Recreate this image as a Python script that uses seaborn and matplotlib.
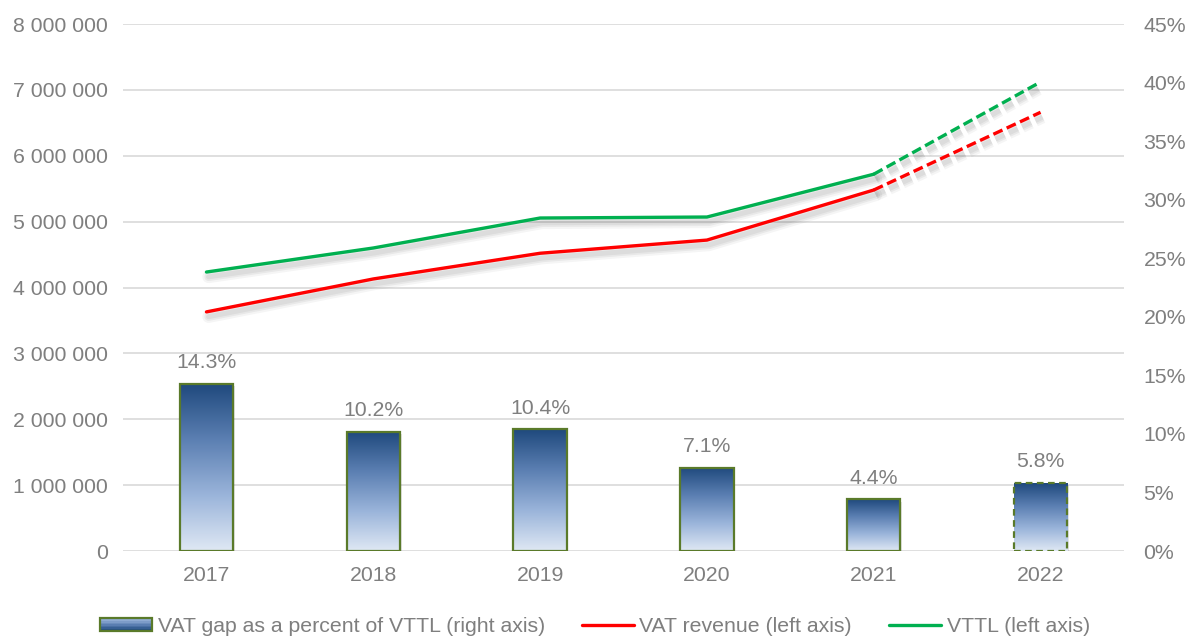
import numpy as np
import pandas as pd
import matplotlib
matplotlib.use("Agg")
import matplotlib.pyplot as plt
import matplotlib.patheffects as pe
from matplotlib.colors import LinearSegmentedColormap
from matplotlib.patches import Rectangle
from matplotlib.legend_handler import HandlerPatch
from matplotlib.lines import Line2D
import seaborn as sns

# ---------------- data ----------------
years = ["2017", "2018", "2019", "2020", "2021", "2022"]
vat_gap_pct = [14.3, 10.2, 10.4, 7.1, 4.4, 5.8]
vat_revenue = [3630000, 4130000, 4520000, 4720000, 5480000, 6660000]
vttl = [4235000, 4600000, 5055000, 5070000, 5720000, 7120000]
left_ticks = [0, 1000000, 2000000, 3000000, 4000000, 5000000, 6000000, 7000000, 8000000]
right_ticks = [0, 5, 10, 15, 20, 25, 30, 35, 40, 45]
legend_labels = ["VAT gap as a percent of VTTL (right axis)",
                 "VAT revenue (left axis)", "VTTL (left axis)"]

# ---------------- style ----------------
sns.set_theme(style="white")
plt.rcParams["font.family"] = ["Liberation Sans", "DejaVu Sans"]
GRAY = "#7F7F7F"
GRID = "#D9D9D9"
RED = "#FF0000"
GREEN = "#00B050"
EDGE = "#5A7A2A"
FS = 15.3

fig = plt.figure(figsize=(11.9, 6.37), dpi=100)
ax1 = fig.add_axes([0.1034, 0.135, 0.8411, 0.8273])
ax2 = ax1.twinx()

df = pd.DataFrame({"year": years, "gap": vat_gap_pct,
                   "rev": vat_revenue, "vttl": vttl})
xpos = np.arange(len(years))
df["x"] = xpos

# bars on right axis
sns.barplot(data=df, x="year", y="gap", ax=ax2, width=0.32,
            color="#4F81BD", edgecolor=EDGE, linewidth=1.6, zorder=3)
ax2.set_ylim(0, 45)
ax2.set_yticks(right_ticks)
ax2.set_yticklabels([f"{t}%" for t in right_ticks])

cmap = LinearSegmentedColormap.from_list(
    "g", ["#DFE8F4", "#9AB4DA", "#5B7FB2", "#1F497D"])
grad = np.linspace(0, 1, 256).reshape(-1, 1)
bars = list(ax2.patches)
for i, p in enumerate(bars):
    x0, y0 = p.get_x(), p.get_y()
    w, h = p.get_width(), p.get_height()
    sh = Rectangle((x0 + 0.01, y0), w, h - 0.2, facecolor="#000000",
                   alpha=0.10, edgecolor="none", zorder=2)
    ax2.add_patch(sh)
    im = ax2.imshow(grad, cmap=cmap, aspect="auto", origin="lower",
                    extent=[x0, x0 + w, y0, y0 + h], zorder=3.5)
    im.set_clip_path(p)
    p.set_facecolor("none")
    p.set_zorder(4)
    if i == len(years) - 1:
        p.set_linestyle((0, (3, 2)))
ax2.set_xlim(-0.5, len(years) - 0.5)
ax2.set_aspect("auto")

for p, v in zip(bars, vat_gap_pct):
    ax2.text(p.get_x() + p.get_width() / 2, p.get_height() + 1.0, f"{v}%",
             ha="center", va="bottom", color=GRAY, fontsize=FS)

# lines on left axis
shadow = [pe.SimpleLineShadow(offset=(1.5, -3.5), shadow_color="#000000", alpha=0.04,
                              linewidth=9),
          pe.SimpleLineShadow(offset=(1.5, -3.5), shadow_color="#000000", alpha=0.05,
                              linewidth=6),
          pe.SimpleLineShadow(offset=(1.5, -3.5), shadow_color="#000000", alpha=0.05,
                              linewidth=3.5),
          pe.Normal()]
solid = df.iloc[:5]
dashed = df.iloc[4:]
sns.lineplot(data=solid, x="x", y="vttl", ax=ax1, color=GREEN, linewidth=2.4,
             path_effects=shadow, zorder=5)
sns.lineplot(data=solid, x="x", y="rev", ax=ax1, color=RED, linewidth=2.4,
             path_effects=shadow, zorder=5)
sns.lineplot(data=dashed, x="x", y="vttl", ax=ax1, color=GREEN, linewidth=2.4,
             linestyle=(0, (3, 1.4)), path_effects=shadow, zorder=5)
sns.lineplot(data=dashed, x="x", y="rev", ax=ax1, color=RED, linewidth=2.4,
             linestyle=(0, (3, 1.4)), path_effects=shadow, zorder=5)

ax1.set_ylim(0, 8000000)
ax1.set_yticks(left_ticks)
ax1.set_yticklabels([f"{t:,}".replace(",", " ") for t in left_ticks])
ax1.set_xlim(-0.5, len(years) - 0.5)
ax1.set_xticks(xpos)
ax1.set_xticklabels(years)
ax1.yaxis.grid(True, color=GRID, linewidth=1.2)
ax1.set_axisbelow(True)
ax1.set_xlabel("")
ax1.set_ylabel("")
ax2.set_xlabel("")
ax2.set_ylabel("")
ax2.patch.set_visible(False)
ax2.yaxis.grid(False)

for ax in (ax1, ax2):
    for s in ax.spines.values():
        s.set_visible(False)
    ax.tick_params(length=0, labelsize=FS, labelcolor=GRAY)
ax1.tick_params(axis="x", pad=11)
ax1.tick_params(axis="y", pad=11)
ax2.tick_params(axis="y", pad=14)


# gradient legend handle
class GradHandler(HandlerPatch):
    def create_artists(self, legend, orig_handle, xdescent, ydescent,
                       width, height, fontsize, trans):
        arts = []
        n = 8
        cols = cmap(np.linspace(0.95, 0.3, n))
        for k in range(n):
            r = Rectangle((-xdescent, -ydescent + height * k / n), width, height / n,
                          facecolor=cols[k], edgecolor="none", transform=trans)
            arts.append(r)
        border = Rectangle((-xdescent, -ydescent), width, height, facecolor="none",
                           edgecolor=EDGE, linewidth=1.6, transform=trans)
        arts.append(border)
        return arts


h_bar = Rectangle((0, 0), 1, 1, facecolor="#4F81BD", edgecolor=EDGE)
h_rev = Line2D([], [], color=RED, linewidth=2.4)
h_vttl = Line2D([], [], color=GREEN, linewidth=2.4)
leg = fig.legend([h_bar, h_rev, h_vttl], legend_labels, loc="lower center",
                 bbox_to_anchor=(0.5, -0.028), ncol=3, frameon=False,
                 fontsize=FS, labelcolor=GRAY, handlelength=2.45, handleheight=0.55,
                 handletextpad=0.25, columnspacing=1.75,
                 handler_map={Rectangle: GradHandler()})

fig.savefig("out.png", dpi=100)
